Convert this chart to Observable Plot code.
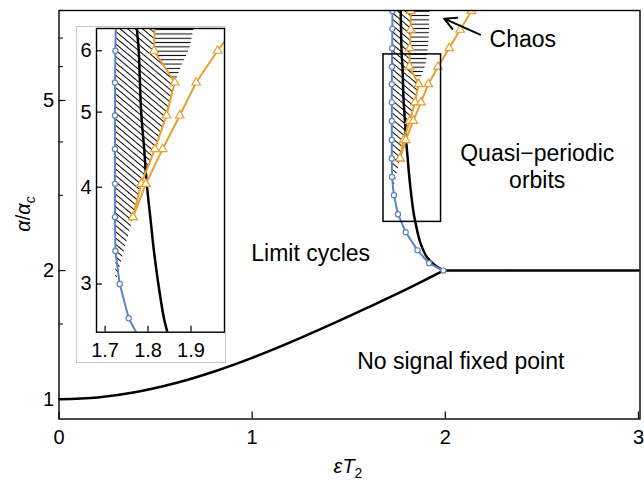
<!DOCTYPE html>
<html><head><meta charset="utf-8">
<script src="https://cdn.jsdelivr.net/npm/d3@7"></script>
<script src="https://cdn.jsdelivr.net/npm/@observablehq/plot@0.6"></script>
<style>
body{margin:0;background:#fff;}
#wrap{position:relative;width:644px;height:483px;font-family:"Liberation Sans",Arial,sans-serif;}
#inset{position:absolute;left:76px;top:26px;border:1px solid #c8c8c8;background:#fff;width:148px;height:335px;}
svg{display:block;}
</style></head><body><div id="wrap"><div id="inset"></div></div>
<script>
// ---- data ----
const xTicks = [0, 1, 2, 3];
const yTicks = [1, 2, 5];
const yMinor = [1.5, 3, 4, 6, 7];
const insetXTicks = [1.7, 1.8, 1.9];
const insetYTicks = [3, 4, 5, 6];
const insetXDomain = [1.68, 1.978];
const insetYDomain = [2.6, 6.41];

// lower boundary (no-signal fixed point)
const lowX = [0, 0.2, 0.4, 0.6, 0.8, 1.0, 1.2, 1.4, 1.6, 1.8, 1.99];
const lowY = [1.0, 1.01, 1.04, 1.09, 1.16, 1.25, 1.36, 1.49, 1.64, 1.81, 2.0];
const flatX = [1.99, 3.01];
const flatY = [2.0, 2.0];
// upper black boundary (quasi-periodic)
const upperX = [1.769, 1.771, 1.774, 1.778, 1.784, 1.791, 1.797, 1.805, 1.814, 1.824, 1.837, 1.845, 1.857, 1.874, 1.905, 1.945, 1.99];
const upperY = [8.12, 7.3, 6.41, 6.04, 5.0, 4.48, 4.04, 3.67, 3.3, 3.0, 2.71, 2.6, 2.45, 2.3, 2.15, 2.06, 2.0];
// blue circles
const circX = [1.726, 1.726, 1.725, 1.724, 1.723, 1.723, 1.723, 1.723, 1.723, 1.724, 1.734, 1.755, 1.795, 1.856, 1.916, 1.99];
const circY = [8.1, 7.36, 6.63, 6.0, 5.46, 4.95, 4.48, 4.04, 3.66, 3.31, 3.0, 2.71, 2.46, 2.23, 2.08, 2.0];
// orange triangles, two branches
const triAX = [1.821, 1.821, 1.816, 1.814, 1.862, 1.843, 1.816, 1.784, 1.765];
const triAY = [8.1, 7.32, 6.63, 6.0, 5.46, 4.95, 4.48, 4.04, 3.66];
const triBX = [2.135, 2.077, 2.02, 1.962, 1.912, 1.874, 1.834, 1.795, 1.765];
const triBY = [8.1, 7.32, 6.63, 6.0, 5.46, 4.95, 4.48, 4.04, 3.66];
// hatched regions (polygons)
const diagPX = [1.724, 1.726, 1.821, 1.821, 1.816, 1.814, 1.862, 1.843, 1.816, 1.784, 1.765, 1.726];
const diagPY = [3.05, 8.12, 8.12, 7.32, 6.63, 6.0, 5.46, 4.95, 4.48, 4.04, 3.66, 3.05];
const horzPX = [1.862, 1.814, 1.816, 1.821, 1.821, 1.918, 1.914, 1.906, 1.896, 1.878];
const horzPY = [5.46, 6.0, 6.63, 7.32, 8.12, 8.12, 7.0, 6.41, 6.04, 5.75];
// annotations
const labelText = ["Limit cycles", "No signal fixed point", "Quasi\u2212periodic\norbits", "Chaos"];
const labelX = [1.303, 2.08, 2.476, 2.401];
const labelY = [2.2, 1.23, 3.52, 6.99];
const arrowFrom = [2.18, 7.13];
const arrowTo = [1.994, 7.77];
const xTitle = ["\u03b5", "T", "2"];
const yTitle = ["\u03b1", "/", "\u03b1", "c"];

// ---- helpers ----
const zip = (xs, ys) => xs.map((x, i) => ({x, y: ys[i]}));
const low = zip(lowX, lowY), flat = zip(flatX, flatY), upper = zip(upperX, upperY);
const circ = zip(circX, circY), triA = zip(triAX, triAY), triB = zip(triBX, triBY);
const diag = zip(diagPX, diagPY), horz = zip(horzPX, horzPY);
const labels = labelText.map((t, i) => ({t, x: labelX[i], y: labelY[i]}));

const BLUE = "#5b84c2", ORANGE = "#e8a02e";
const FONT = "'Liberation Sans', Arial, sans-serif";

function curveMarks(suffix) {
  return [
    Plot.line(diag, {x: "x", y: "y", fill: `url(#diag${suffix})`, stroke: "none", clip: true}),
    Plot.line(horz, {x: "x", y: "y", fill: `url(#horz${suffix})`, stroke: "none", clip: true}),
    Plot.line(low, {x: "x", y: "y", stroke: "black", strokeWidth: 2.5, curve: "catmull-rom", clip: true}),
    Plot.line(flat, {x: "x", y: "y", stroke: "black", strokeWidth: 2.5, clip: true}),
    Plot.line(upper, {x: "x", y: "y", stroke: "black", strokeWidth: 2.5, curve: "catmull-rom", clip: true}),
    Plot.line(circ, {x: "x", y: "y", stroke: BLUE, strokeWidth: 2, clip: true}),
    Plot.line(triA, {x: "x", y: "y", stroke: ORANGE, strokeWidth: 2, clip: true}),
    Plot.line(triB, {x: "x", y: "y", stroke: ORANGE, strokeWidth: 2, clip: true}),
    Plot.dot(circ, {x: "x", y: "y", r: 2.6, fill: "white", stroke: BLUE, strokeWidth: 1.2, clip: true}),
    Plot.dot(triA, {x: "x", y: "y", r: 3.2, symbol: "triangle", fill: "white", stroke: ORANGE, strokeWidth: 1.2, clip: true}),
    Plot.dot(triB, {x: "x", y: "y", r: 3.2, symbol: "triangle", fill: "white", stroke: ORANGE, strokeWidth: 1.2, clip: true})
  ];
}

function addPatterns(svg, suffix) {
  const defs = d3.select(svg).insert("defs", ":first-child");
  const p1 = defs.append("pattern").attr("id", "diag" + suffix).attr("patternUnits", "userSpaceOnUse")
    .attr("width", 10).attr("height", 4.8).attr("patternTransform", "rotate(40)");
  p1.append("line").attr("x1", -1).attr("x2", 11).attr("y1", 2.4).attr("y2", 2.4).attr("stroke", "black").attr("stroke-width", 1);
  const p2 = defs.append("pattern").attr("id", "horz" + suffix).attr("patternUnits", "userSpaceOnUse")
    .attr("width", 10).attr("height", 4.3);
  p2.append("line").attr("x1", -1).attr("x2", 11).attr("y1", 2.15).attr("y2", 2.15).attr("stroke", "black").attr("stroke-width", 1);
}

// ---- main chart ----
const mW = 644, mH = 483, mL = 58.5, mR = 4.5, mT = 10, mB = 64.5;
const main = Plot.plot({
  width: mW, height: mH,
  marginLeft: mL, marginRight: mR, marginTop: mT, marginBottom: mB,
  x: {domain: [0, 3.008]},
  y: {type: "log", domain: [0.899, 8.12]},
  style: {fontFamily: FONT, fontSize: "20px", color: "black", background: "white", overflow: "visible"},
  marks: [
    ...curveMarks("M"),
    Plot.rect([{x1: insetXDomain[0], x2: insetXDomain[1], y1: insetYDomain[0], y2: insetYDomain[1]}],
      {x1: "x1", x2: "x2", y1: "y1", y2: "y2", fill: "none", stroke: "black", strokeWidth: 1.5}),
    Plot.text(labels, {x: "x", y: "y", text: "t", fontSize: 23, lineHeight: 1.16, fill: "black"}),
    Plot.arrow([{x1: arrowFrom[0], y1: arrowFrom[1], x2: arrowTo[0], y2: arrowTo[1]}],
      {x1: "x1", y1: "y1", x2: "x2", y2: "y2", stroke: "black", strokeWidth: 2, headLength: 11, headAngle: 55}),
    Plot.frame({stroke: "black", strokeWidth: 1.4}),
    Plot.tickX(xTicks, {x: d => d, insetTop: mH - mT - mB - 7, stroke: "black", strokeWidth: 1.2}),
    Plot.tickY(yTicks, {y: d => d, insetRight: mW - mL - mR - 7, stroke: "black", strokeWidth: 1.2}),
    Plot.tickY(yMinor, {y: d => d, insetRight: mW - mL - mR - 4.5, stroke: "black", strokeWidth: 1}),
    Plot.axisX(xTicks, {tickSize: 0, tickPadding: 11, fontSize: 20, label: null, tickFormat: d => String(d)}),
    Plot.axisY(yTicks, {tickSize: 0, tickPadding: 5, fontSize: 20, label: null, tickFormat: d => String(d)})
  ]
});
addPatterns(main, "M");
document.getElementById("wrap").insertBefore(main, document.getElementById("inset"));

// axis titles with sub-scripts
const ms = d3.select(main);
const xt = ms.append("text").attr("x", 348).attr("y", 473).attr("text-anchor", "middle")
  .style("font-family", FONT).style("font-size", "20px");
xt.append("tspan").style("font-style", "italic").text(xTitle[0]);
xt.append("tspan").style("font-style", "italic").text(xTitle[1]);
xt.append("tspan").attr("dy", 5).style("font-size", "14px").text(xTitle[2]);
const yt = ms.append("text").attr("transform", "translate(30,214) rotate(-90)").attr("text-anchor", "middle")
  .style("font-family", FONT).style("font-size", "20px");
yt.append("tspan").style("font-style", "italic").text(yTitle[0]);
yt.append("tspan").text(yTitle[1]);
yt.append("tspan").style("font-style", "italic").text(yTitle[2]);
yt.append("tspan").attr("dy", 5).style("font-size", "14px").style("font-style", "italic").text(yTitle[3]);

// ---- inset ----
const iW = 148, iH = 335, iL = 19, iR = 1, iT = 1, iB = 30.3;
const inset = Plot.plot({
  width: iW, height: iH,
  marginLeft: iL, marginRight: iR, marginTop: iT, marginBottom: iB,
  x: {domain: insetXDomain},
  y: {type: "log", domain: insetYDomain},
  style: {fontFamily: FONT, fontSize: "20px", color: "black", background: "white"},
  marks: [
    ...curveMarks("I"),
    Plot.frame({stroke: "black", strokeWidth: 1.4}),
    Plot.tickX(insetXTicks, {x: d => d, insetTop: iH - iT - iB - 6, stroke: "black", strokeWidth: 1.2}),
    Plot.tickY(insetYTicks, {y: d => d, insetRight: iW - iL - iR - 6, stroke: "black", strokeWidth: 1.2}),
    Plot.axisX(insetXTicks, {tickSize: 0, tickPadding: 11, fontSize: 20, label: null, tickFormat: d => d.toFixed(1)}),
    Plot.axisY(insetYTicks, {tickSize: 0, tickPadding: 5, fontSize: 20, label: null, tickFormat: d => String(d)})
  ]
});
addPatterns(inset, "I");
document.getElementById("inset").appendChild(inset);
</script></body></html>
